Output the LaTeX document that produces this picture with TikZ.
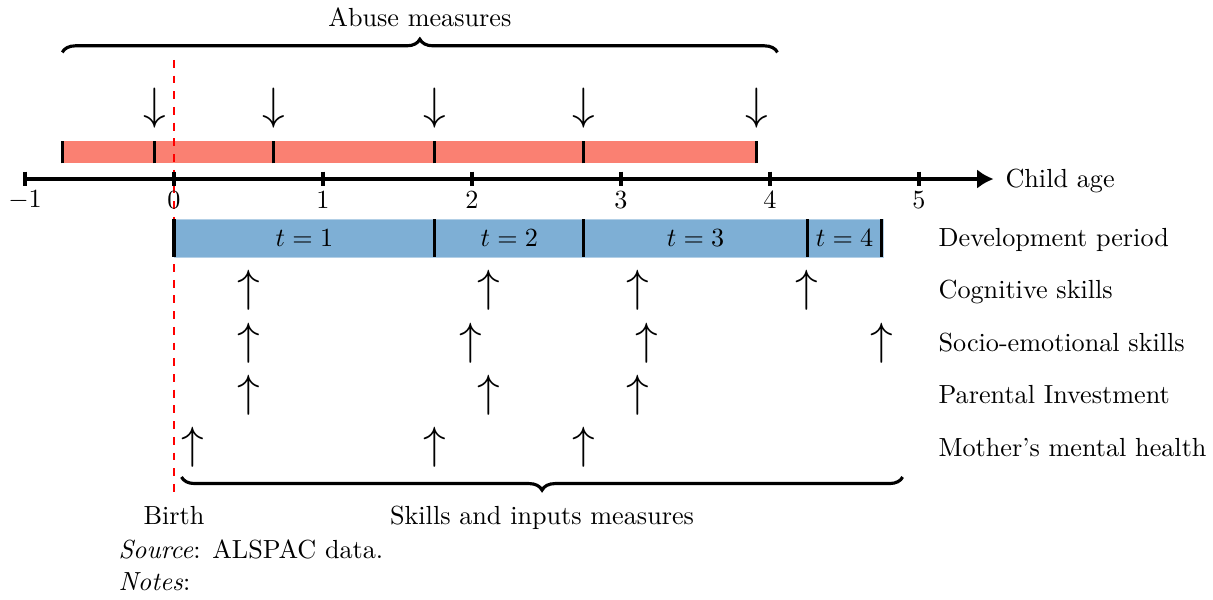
\documentclass[tikz,border=0pt]{standalone}
\usepackage{amsmath,amssymb}
\usepackage{tikz}
\usetikzlibrary{arrows.meta,decorations.pathreplacing}
\definecolor{abusered}{RGB}{250,128,114}
\definecolor{periodblue}{RGB}{126,175,213}

\begin{document}
\begin{tikzpicture}[
    x=2cm, y=1cm,
    divider/.style={line width=1.2pt, draw=black},
    brc/.style={decorate, decoration={brace, amplitude=5pt}, line width=1.2pt},
    arrsym/.style={inner sep=0pt, font=\LARGE},
    rowlbl/.style={anchor=base west, inner sep=0pt},
  ]
    \useasboundingbox (-1.168,-5.638) rectangle (6.973,2.403);

    % bars
    \fill[abusered] (-0.75,0.21) rectangle (3.91,0.51);
    \filldraw[fill=periodblue, draw=periodblue!60!white, line width=0.4pt] (0,-0.54) rectangle (4.76,-1.05);

    % birth line
    \coordinate (birthtop) at (0,1.6);
    \coordinate (birthbot) at (0,-4.2);
    \draw[red, dashed, line width=0.6pt] (birthtop) -- (birthbot);

    \foreach \x in {-0.75,-0.13,0.67,1.75,2.75,3.91}
      \draw[divider] (\x,0.21) -- (\x,0.51);
    \foreach \x in {0,1.75,2.75,4.25,4.75}
      \draw[divider] (\x,-0.54) -- (\x,-1.05);

    % time axis
    \coordinate (axL) at (-1,0);
    \coordinate (axR) at (5.5,0);
    \draw[line width=1.2pt, -{Latex[length=2.2mm,width=2.6mm]}] (axL) -- (axR);
    \foreach \x [count=\i] in {-1,...,5} {
      \draw[line width=1.2pt] (\x,0.1) -- (\x,-0.1);
      \node[inner sep=0pt] (tk\i) at (\x,-0.28) {$\x$};
    }
    \node[rowlbl] (age) at (5.577,-0.12) {Child age};

    % abuse measures
    \foreach \x [count=\i] in {-0.13,0.67,1.75,2.75,3.91}
      \node[arrsym] (ab\i) at (\x,0.95) {$\downarrow$};
    \coordinate (abL) at (-0.75,1.70);
    \coordinate (abR) at (4.05,1.70);
    \draw[brc] (abL) -- (abR);
    \node[anchor=base, inner sep=0pt] (ablbl) at (1.65,2.05) {Abuse measures};

    % development periods
    \node (t1) at (0.875,-0.795) {$t=1$};
    \node (t2) at (2.25,-0.795) {$t=2$};
    \node (t3) at (3.5,-0.795) {$t=3$};
    \node (t4) at (4.5,-0.795) {$t=4$};
    \node[rowlbl] (dev) at (5.128,-0.91) {Development period};

    % skills and inputs
    \foreach \x [count=\i] in {0.5,2.11,3.11,4.25}
      \node[arrsym] (cog\i) at (\x,-1.49) {$\uparrow$};
    \node[rowlbl] (coglbl) at (5.128,-1.61) {Cognitive skills};
    \foreach \x [count=\i] in {0.5,1.99,3.17,4.75}
      \node[arrsym] (soc\i) at (\x,-2.20) {$\uparrow$};
    \node[rowlbl] (soclbl) at (5.128,-2.32) {Socio-emotional skills};
    \foreach \x [count=\i] in {0.5,2.11,3.11}
      \node[arrsym] (par\i) at (\x,-2.90) {$\uparrow$};
    \node[rowlbl] (parlbl) at (5.128,-3.02) {Parental Investment};
    \foreach \x [count=\i] in {0.125,1.75,2.75}
      \node[arrsym] (mot\i) at (\x,-3.60) {$\uparrow$};
    \node[rowlbl] (motlbl) at (5.128,-3.72) {Mother's mental health};

    \coordinate (skL) at (0.05,-4.0);
    \coordinate (skR) at (4.89,-4.0);
    \draw[brc] (skR) -- (skL);
    \node[anchor=base, inner sep=0pt] (sklbl) at (2.47,-4.64) {Skills and inputs measures};
    \node[anchor=base, inner sep=0pt] (birth) at (0,-4.64) {Birth};

    % source and notes
    \node[rowlbl] (src) at (-0.376,-5.10) {\textit{Source}: ALSPAC data.};
    \node[rowlbl] (notes) at (-0.376,-5.53) {\textit{Notes}:};
\end{tikzpicture}
\end{document}
